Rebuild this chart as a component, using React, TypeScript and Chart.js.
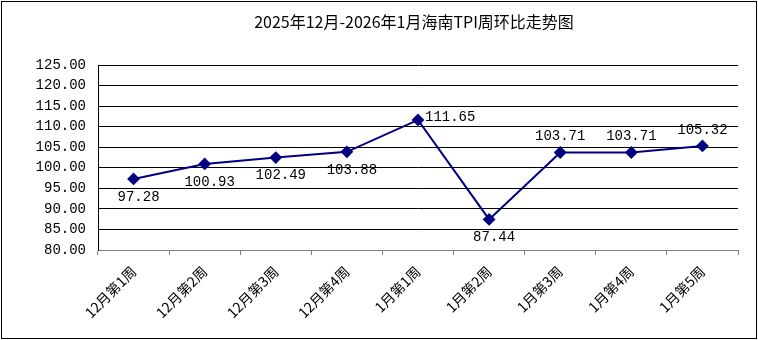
import React, { useEffect, useRef } from "react";
import { Chart, registerables } from "chart.js";

Chart.register(...registerables);

const TITLE = "2025年12月-2026年1月海南TPI周环比走势图";
const categories = [
  "12月第1周",
  "12月第2周",
  "12月第3周",
  "12月第4周",
  "1月第1周",
  "1月第2周",
  "1月第3周",
  "1月第4周",
  "1月第5周",
];
const values = [97.28, 100.93, 102.49, 103.88, 111.65, 87.44, 103.71, 103.71, 105.32];
const labelPositions = ["below", "below", "below", "below", "right", "below", "above", "above", "above"];

const NAVY = "#000080";

const framePlugin = {
  id: "frame",
  beforeDraw(chart: any) {
    const ctx = chart.ctx;
    ctx.save();
    ctx.fillStyle = "#ffffff";
    ctx.fillRect(0, 0, chart.width, chart.height);
    ctx.strokeStyle = "#000000";
    ctx.lineWidth = 1;
    ctx.strokeRect(1.5, 1.5, chart.width - 3, chart.height - 3);
    ctx.fillStyle = "#000000";
    ctx.font = '16px "Noto Sans CJK SC"';
    ctx.textAlign = "center";
    ctx.textBaseline = "middle";
    ctx.fillText(TITLE, 414, 22);
    ctx.restore();
  },
};

const labelPlugin = {
  id: "pointLabels",
  afterDatasetsDraw(chart: any) {
    const ctx = chart.ctx;
    const meta = chart.getDatasetMeta(0);
    ctx.save();
    ctx.fillStyle = "#000000";
    ctx.font = '14px "Liberation Mono"';
    meta.data.forEach((pt: any, i: number) => {
      const txt = values[i].toFixed(2);
      const pos = labelPositions[i];
      if (pos === "below") {
        ctx.textAlign = "center";
        ctx.textBaseline = "middle";
        ctx.fillText(txt, pt.x + 5, pt.y + 18);
      } else if (pos === "above") {
        ctx.textAlign = "center";
        ctx.textBaseline = "middle";
        ctx.fillText(txt, pt.x, pt.y - 16);
      } else {
        ctx.textAlign = "left";
        ctx.textBaseline = "middle";
        ctx.fillText(txt, pt.x + 7, pt.y - 3);
      }
    });
    ctx.restore();
  },
};

export default function App() {
  const ref = useRef<HTMLCanvasElement>(null);
  useEffect(() => {
    document.body.style.margin = "0";
    const chart = new Chart(ref.current as HTMLCanvasElement, {
      type: "line",
      data: {
        labels: categories,
        datasets: [
          {
            data: values,
            borderColor: NAVY,
            backgroundColor: NAVY,
            borderWidth: 2,
            pointStyle: "rectRot",
            pointRadius: 5,
            pointBackgroundColor: NAVY,
            pointBorderColor: NAVY,
            tension: 0,
          },
        ],
      },
      options: {
        responsive: false,
        animation: false,
        layout: { padding: { top: 65, right: 20, left: 0, bottom: 0 } },
        plugins: {
          legend: { display: false },
          title: { display: false },
          tooltip: { enabled: false },
        },
        scales: {
          x: {
            offset: true,
            afterFit(scale: any) {
              scale.height = 90;
            },
            grid: {
              drawOnChartArea: false,
              drawTicks: true,
              tickLength: 5,
              color: "#808080",
              offset: true,
            },
            border: { display: true, color: "#808080" },
            ticks: {
              minRotation: 45,
              maxRotation: 45,
              autoSkip: false,
              color: "#000000",
              padding: 8,
              font: { family: '"Noto Sans CJK SC"', size: 14 },
            },
          },
          y: {
            min: 80,
            max: 125,
            afterFit(scale: any) {
              scale.width = 98;
            },
            grid: {
              color: (c: any) => (c.tick && c.tick.value === 80 ? "rgba(0,0,0,0)" : "#000000"),
              drawTicks: false,
              lineWidth: 1,
            },
            border: { display: true, color: "#000000" },
            ticks: {
              stepSize: 5,
              padding: 12,
              color: "#000000",
              font: { family: '"Liberation Mono"', size: 14 },
              callback: (v: any) => Number(v).toFixed(2),
            },
          },
        },
      },
      plugins: [framePlugin, labelPlugin],
    });
    return () => chart.destroy();
  }, []);
  return <canvas ref={ref} width={758} height={340} style={{ display: "block" }} />;
}
